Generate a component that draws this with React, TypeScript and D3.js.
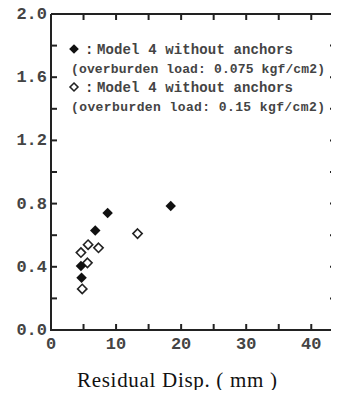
import * as d3 from 'd3'

interface Pt { x: number; y: number }

const W = 339
const H = 398
const X_MAX = 43.8

// Model 4 without anchors, overburden load 0.075 kgf/cm2 (filled)
const filledPts: Pt[] = [
  { x: 4.7, y: 0.33 },
  { x: 4.6, y: 0.405 },
  { x: 6.8, y: 0.63 },
  { x: 8.7, y: 0.74 },
  { x: 18.4, y: 0.785 },
]
// Model 4 without anchors, overburden load 0.15 kgf/cm2 (open)
const openPts: Pt[] = [
  { x: 4.8, y: 0.26 },
  { x: 5.6, y: 0.425 },
  { x: 4.6, y: 0.49 },
  { x: 5.7, y: 0.54 },
  { x: 7.3, y: 0.52 },
  { x: 13.3, y: 0.61 },
]

const xTickLabels = [0, 10, 20, 30, 40]
const xTicksMinor = [5, 10, 15, 20, 25, 30, 35, 40]
const yTickLabels = [0, 0.4, 0.8, 1.2, 1.6, 2.0]
const yTicksMinor = [0.2, 0.4, 0.6, 0.8, 1.0, 1.2, 1.4, 1.6, 1.8]

const legendLines = [
  { marker: 'filled', text: 'Model 4 without anchors' },
  { marker: null, text: '(overburden load: 0.075 kgf/cm2)' },
  { marker: 'open', text: 'Model 4 without anchors' },
  { marker: null, text: '(overburden load: 0.15 kgf/cm2)' },
]

const MONO = '"Liberation Mono", "DejaVu Sans Mono", monospace'
const INK = '#222'

const xSc = d3.scaleLinear().domain([0, X_MAX]).range([51, 336])
const ySc = d3.scaleLinear().domain([0, 2]).range([330, 14])
const sym = (s: number) => d3.symbol().type(d3.symbolDiamond2).size(s)() as string
const bigD = sym(70)
const openD = sym(55)
const legFilledD = sym(60)
const legOpenD = sym(40)

export default function App() {
  const [x0, x1] = xSc.range()
  const [y0, y1] = ySc.range()
  const tl = 6
  const ly = [50, 69, 88, 107]

  return (
    <div style={{ margin: -8 }}>
      <svg width={W} height={H} viewBox={`0 0 ${W} ${H}`} style={{ display: 'block', background: '#fff' }}>
        <g stroke={INK} strokeWidth={2} fill="none">
          <polyline points={`${x0},${y1} ${x1},${y1} ${x1},${y0} ${x0},${y0} ${x0},${y1}`} />
          {xTicksMinor.map((t) => (
            <polyline key={'xt' + t} points={`${xSc(t)},${y0} ${xSc(t)},${y0 - tl}`} />
          ))}
          {xTicksMinor.map((t) => (
            <polyline key={'xtt' + t} points={`${xSc(t)},${y1} ${xSc(t)},${y1 + tl}`} />
          ))}
          {yTicksMinor.map((t) => (
            <polyline key={'yt' + t} points={`${x0},${ySc(t)} ${x0 + tl},${ySc(t)}`} />
          ))}
          {yTicksMinor.map((t) => (
            <polyline key={'ytr' + t} points={`${x1},${ySc(t)} ${x1 - tl},${ySc(t)}`} />
          ))}
        </g>
        {xTickLabels.map((t) => (
          <text key={'xl' + t} x={xSc(t)} y={349} textAnchor="middle" fontFamily={MONO} fontWeight="bold" fontSize={17} fill="#444">{String(t)}</text>
        ))}
        {yTickLabels.map((t) => (
          <text key={'yl' + t} x={x0 - 4} y={ySc(t) + 5} textAnchor="end" fontFamily={MONO} fontWeight="bold" fontSize={17} fill="#444">{t.toFixed(1)}</text>
        ))}
        <text x={177} y={387} textAnchor="middle" fontFamily='"Liberation Serif", "Times New Roman", serif' fontSize={21} fill="#111" textLength={200}>
          Residual Disp. ( mm )
        </text>

        {openPts.map((p, i) => (
          <path key={'o' + i} transform={`translate(${xSc(p.x)},${ySc(p.y)})`} d={openD} fill="#fff" stroke="#222" strokeWidth={1.6} />
        ))}
        {filledPts.map((p, i) => (
          <path key={'f' + i} transform={`translate(${xSc(p.x)},${ySc(p.y)})`} d={bigD} fill="#111" />
        ))}

        {legendLines.map((l, i) =>
          l.marker ? (
            <g key={'lg' + i}>
              <path transform={`translate(74,${ly[i] - 1})`} d={l.marker === 'filled' ? legFilledD : legOpenD}
                fill={l.marker === 'filled' ? '#111' : '#fff'} stroke={l.marker === 'filled' ? 'none' : '#222'} strokeWidth={1.6} />
              <text x={85} y={ly[i] + 4} fontFamily={MONO} fontWeight="bold" fontSize={14} fill="#333">:</text>
              <text x={97} y={ly[i] + 4} fontFamily={MONO} fontWeight="bold" fontSize={14} fill="#444" textLength={196}>{l.text}</text>
            </g>
          ) : (
            <text key={'lg' + i} x={71} y={ly[i] + 4} fontFamily={MONO} fontWeight="bold" fontSize={13} fill="#444" textLength={254}>{l.text}</text>
          )
        )}
      </svg>
    </div>
  )
}
